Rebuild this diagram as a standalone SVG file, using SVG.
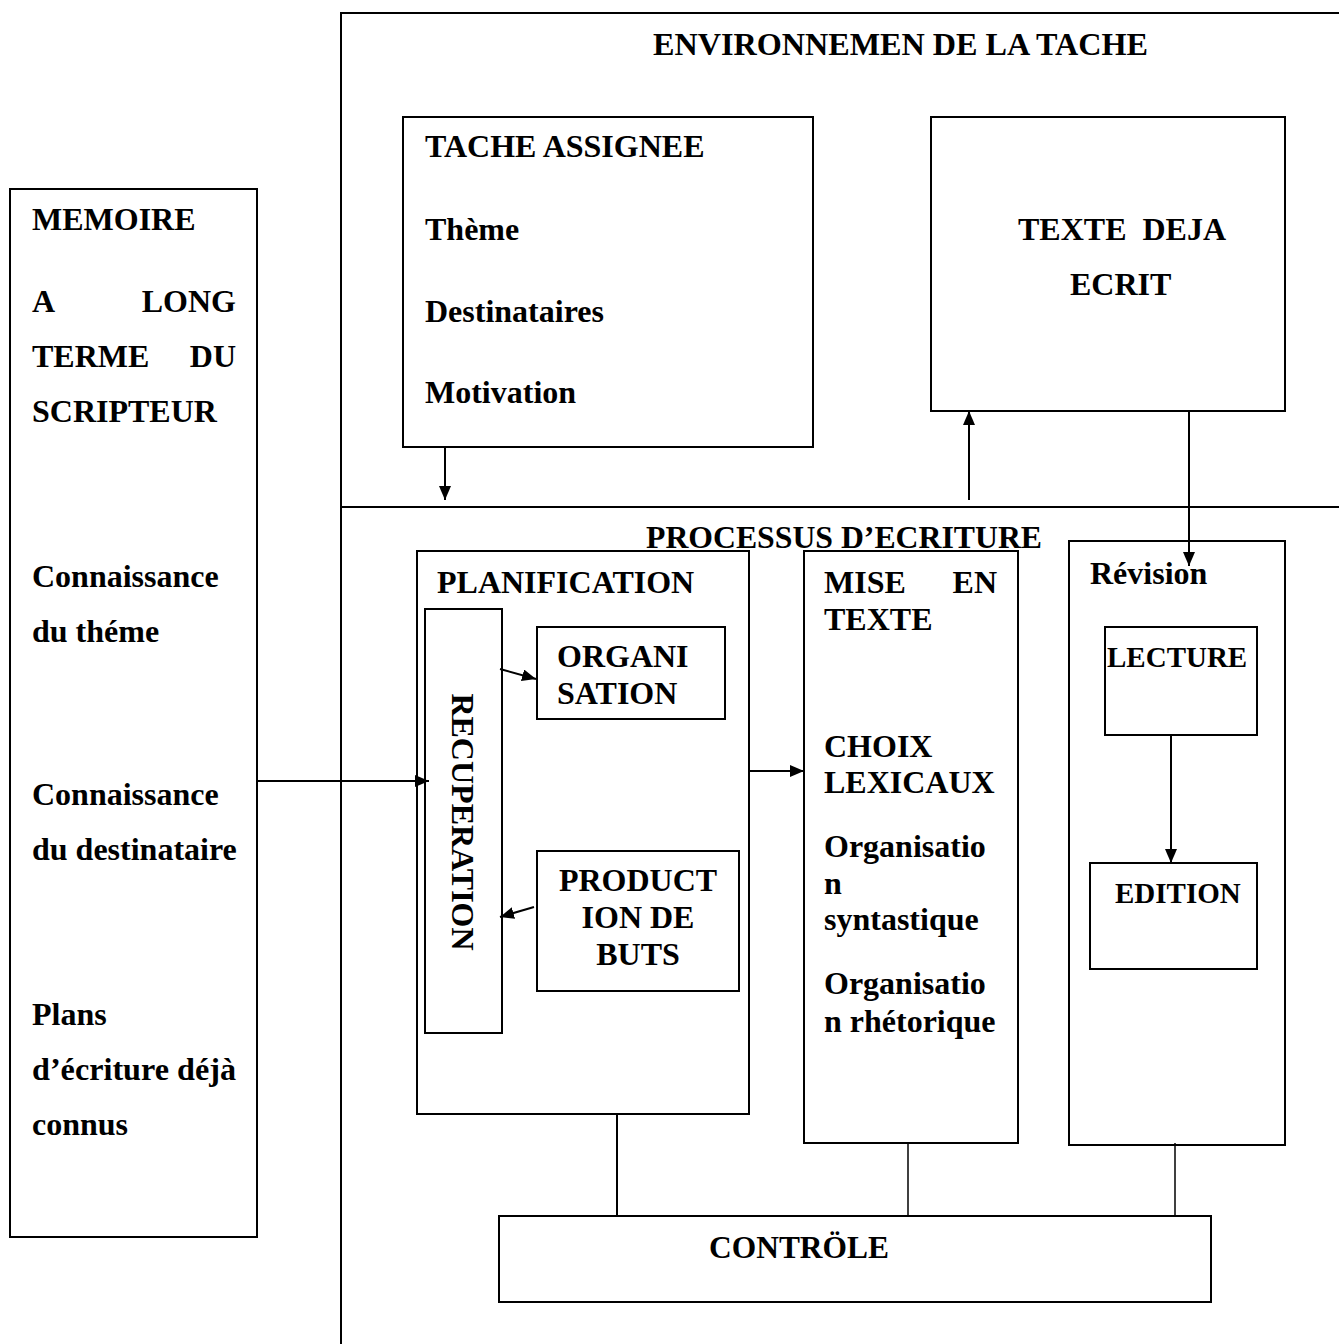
<svg xmlns="http://www.w3.org/2000/svg" width="1339" height="1344" viewBox="0 0 1339 1344">
<style>
.b{fill:none;stroke:#000;stroke-width:2}
text{font-family:"Liberation Serif","Times New Roman",serif;font-weight:bold;font-size:32px;fill:#000}
.s{font-size:29px}
.c{stroke:#000;stroke-width:2;fill:none}
.t{stroke:#000;stroke-width:1.5;fill:none}
</style>
<defs>
<marker id="ah" viewBox="0 0 14 12" refX="14" refY="6" markerWidth="14" markerHeight="12" markerUnits="userSpaceOnUse" orient="auto">
<path d="M0,0 L14,6 L0,12 Z" fill="#000"/>
</marker>
</defs>
<rect width="1339" height="1344" fill="#fff"/>
<g id="environnement">
<path class="b" d="M341,1344 L341,13 L1340,13 M341,507 L1340,507"/>
<text x="653" y="55" textLength="495" lengthAdjust="spacingAndGlyphs">ENVIRONNEMEN DE LA TACHE</text>
</g>
<g id="tache-assignee">
<rect class="b" x="403" y="117" width="410" height="330"/>
<text x="425" y="157">TACHE ASSIGNEE</text>
<text x="425" y="240">Thème</text>
<text x="425" y="322">Destinataires</text>
<text x="425" y="403">Motivation</text>
</g>
<g id="texte-deja-ecrit">
<rect class="b" x="931" y="117" width="354" height="294"/>
<text x="1018" y="240" xml:space="preserve">TEXTE  DEJA</text>
<text x="1070" y="295">ECRIT</text>
</g>
<g id="memoire">
<rect class="b" x="10" y="189" width="247" height="1048"/>
<text x="32" y="230">MEMOIRE</text>
<text x="32" y="312">A</text>
<text x="236" y="312" text-anchor="end">LONG</text>
<text x="32" y="367">TERME</text>
<text x="236" y="367" text-anchor="end">DU</text>
<text x="32" y="422">SCRIPTEUR</text>
<text x="32" y="587">Connaissance</text>
<text x="32" y="642">du théme</text>
<text x="32" y="805">Connaissance</text>
<text x="32" y="860">du destinataire</text>
<text x="32" y="1025">Plans</text>
<text x="32" y="1080" textLength="204" lengthAdjust="spacingAndGlyphs">d’écriture déjà</text>
<text x="32" y="1135">connus</text>
</g>
<g id="processus">
<text x="646" y="548" textLength="396" lengthAdjust="spacingAndGlyphs">PROCESSUS D’ECRITURE</text>
</g>
<g id="planification">
<rect class="b" x="417" y="551" width="332" height="563"/>
<text x="437" y="593">PLANIFICATION</text>
</g>
<g id="recuperation">
<rect class="b" x="425" y="609" width="77" height="424"/>
<text transform="translate(452,822) rotate(90)" text-anchor="middle">RECUPERATION</text>
</g>
<g id="organisation">
<rect class="b" x="537" y="627" width="188" height="92"/>
<text x="557" y="667">ORGANI</text>
<text x="557" y="704">SATION</text>
</g>
<g id="production-de-buts">
<rect class="b" x="537" y="851" width="202" height="140"/>
<text x="638" y="891" text-anchor="middle">PRODUCT</text>
<text x="638" y="928" text-anchor="middle">ION DE</text>
<text x="638" y="965" text-anchor="middle">BUTS</text>
</g>
<g id="mise-en-texte">
<rect class="b" x="804" y="551" width="214" height="592"/>
<text x="824" y="593">MISE</text>
<text x="997" y="593" text-anchor="end">EN</text>
<text x="824" y="630">TEXTE</text>
<text x="824" y="757">CHOIX</text>
<text x="824" y="793">LEXICAUX</text>
<text x="824" y="857">Organisatio</text>
<text x="824" y="894">n</text>
<text x="824" y="930">syntastique</text>
<text x="824" y="994">Organisatio</text>
<text x="824" y="1032">n rhétorique</text>
</g>
<g id="revision">
<rect class="b" x="1069" y="541" width="216" height="604"/>
<text x="1090" y="584">Révision</text>
</g>
<g id="lecture">
<rect class="b" x="1105" y="627" width="152" height="108"/>
<text class="s" x="1107" y="667">LECTURE</text>
</g>
<g id="edition">
<rect class="b" x="1090" y="863" width="167" height="106"/>
<text class="s" x="1115" y="903">EDITION</text>
</g>
<g id="controle">
<rect class="b" x="499" y="1216" width="712" height="86"/>
<text x="709" y="1258" textLength="180" lengthAdjust="spacingAndGlyphs">CONTRÖLE</text>
</g>
<g id="connectors">
<line class="c" x1="445" y1="447" x2="445" y2="500" marker-end="url(#ah)"/>
<line class="c" x1="969" y1="500" x2="969" y2="411" marker-end="url(#ah)"/>
<line class="c" x1="1189" y1="411" x2="1189" y2="566" marker-end="url(#ah)"/>
<line class="c" x1="257" y1="781" x2="429" y2="781" marker-end="url(#ah)"/>
<line class="c" x1="500" y1="669" x2="536" y2="679" marker-end="url(#ah)"/>
<line class="c" x1="534" y1="907" x2="500" y2="917" marker-end="url(#ah)"/>
<line class="c" x1="749" y1="771" x2="804" y2="771" marker-end="url(#ah)"/>
<line class="c" x1="1171" y1="735" x2="1171" y2="863" marker-end="url(#ah)"/>
<line class="c" x1="617" y1="1114" x2="617" y2="1216"/>
<line class="t" x1="908" y1="1143" x2="908" y2="1216"/>
<line class="t" x1="1175" y1="1143" x2="1175" y2="1216"/>
</g>
</svg>
